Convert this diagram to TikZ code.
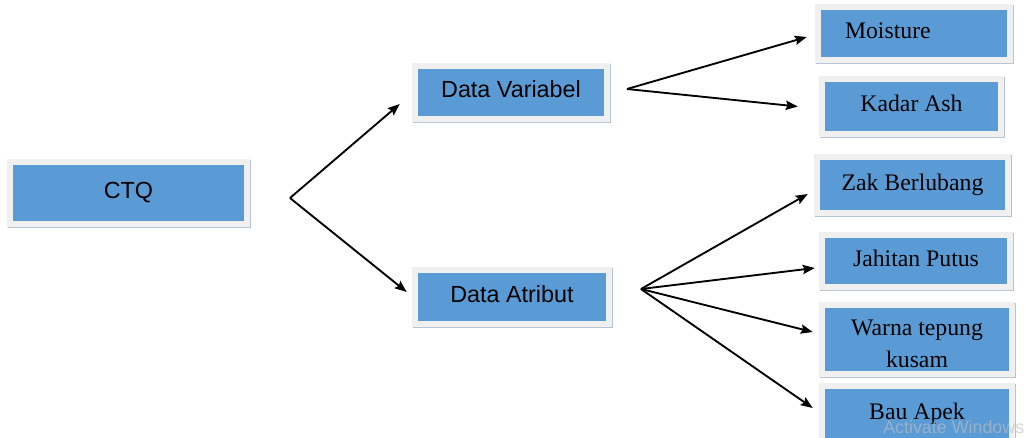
\documentclass[tikz,border=0pt]{standalone}
\usepackage{fontspec}
\setmainfont{Liberation Serif}
\newfontfamily\arialfont{Liberation Sans}
\usetikzlibrary{arrows.meta,shadows}

\definecolor{boxblue}{HTML}{5B9BD5}
\definecolor{boxframe}{HTML}{F0F0F0}
\definecolor{boxshade}{HTML}{B8C4D4}

\tikzset{
  box/.style={
    fill=boxframe, draw=none,
    drop shadow={shadow xshift=1.1pt, shadow yshift=-1.1pt,
                 fill=boxshade, opacity=1},
    path picture={
      \fill[boxblue]
        ([xshift=4.5pt,yshift=-4.5pt]path picture bounding box.north west)
        rectangle
        ([xshift=-4.5pt,yshift=4.5pt]path picture bounding box.south east);
    }
  },
  oneline/.style={text height=0.95em, text depth=0.2em},
  sanslabel/.style={font=\arialfont\fontsize{17.5}{21}\selectfont},
  seriflabel/.style={font=\fontsize{17.8}{24}\selectfont},
  arr/.style={line width=1.4pt, -{Stealth[length=9pt,width=7pt,inset=1.5pt]}},
  watermark/.style={font=\arialfont\fontsize{13.4}{16}\selectfont,
                    text=black!25, opacity=0.6, inner sep=0pt}
}

\begin{document}
\begin{tikzpicture}[x=0.75pt,y=-0.75pt]
  \clip (0,0) rectangle (1026,437);
  \fill[white] (0,0) rectangle (1026,437);

  % root and second level
  \node[box, oneline, sanslabel, minimum width=182.25pt, minimum height=51pt]
    (ctq) at (128.5,193) {CTQ};
  \node[box, oneline, sanslabel, minimum width=148.5pt, minimum height=44.25pt]
    (dv) at (511,92.5) {Data Variabel};
  \node[box, oneline, sanslabel, minimum width=150pt, minimum height=45pt]
    (da) at (512,297) {Data Atribut};

  % leaves
  \node[box, oneline, seriflabel, minimum width=148.5pt, minimum height=44.25pt,
        align=left, text width=103.5pt, inner xsep=22.5pt]
    (moist) at (914,33.5) {Moisture};
  \node[box, oneline, seriflabel, minimum width=138.75pt, minimum height=45.75pt]
    (kadar) at (911.5,106.5) {Kadar Ash};
  \node[box, oneline, seriflabel, minimum width=147.75pt, minimum height=46.5pt]
    (zak) at (912.5,185) {Zak Berlubang};
  \node[box, oneline, seriflabel, minimum width=145.5pt, minimum height=43.5pt]
    (jahit) at (916,261) {Jahitan Putus};
  \node[box, seriflabel, align=center, minimum width=147pt, minimum height=56.25pt]
    (warna) at (917,339.5) {\rule{0pt}{18.2pt}Warna tepung\\kusam};
  \node[box, oneline, seriflabel, minimum width=147pt, minimum height=46.5pt]
    (bau) at (917,414) {Bau Apek};

  % branching points
  \coordinate (v0) at (290,198);
  \coordinate (v1) at (627,89);
  \coordinate (v2) at (641,289);

  \draw[arr] (v0) -- ([shift={(-12,11.5)}]dv.west);
  \draw[arr] (v0) -- ([shift={(-5,-5)}]da.west);

  \draw[arr] (v1) -- ([shift={(-8,3.5)}]moist.west);
  \draw[arr] (v1) -- ([shift={(-21,0)}]kadar.west);

  \draw[arr] (v2) -- ([shift={(-6,9)}]zak.west);
  \draw[arr] (v2) -- ([shift={(-4,7)}]jahit.west);
  \draw[arr] (v2) -- ([shift={(-6,-7.5)}]warna.west);
  \draw[arr] (v2) -- ([shift={(-6,-6)}]bau.west);

  \node[watermark, anchor=base west] (wm) at (883,433) {Activate Windows};
\end{tikzpicture}
\end{document}
